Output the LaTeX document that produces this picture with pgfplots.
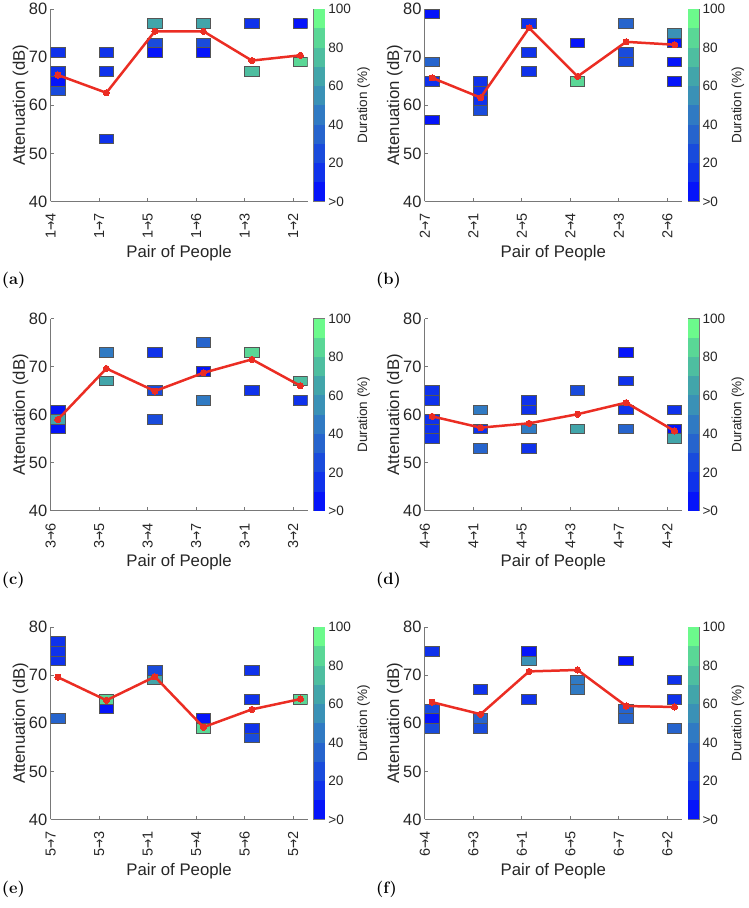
\documentclass[border=0pt]{standalone}
\usepackage{fontspec}
\setsansfont{Liberation Sans}
\newfontfamily\arrowfont{DejaVu Sans}
\usepackage{graphicx}
\usepackage{pgfplots}
\usepackage{pgfplotstable}
\pgfplotsset{compat=1.18}

% duration colour levels (10 bands, >0 ... 100)
\definecolor{c0}{RGB}{5,20,250}
\definecolor{c1}{RGB}{15,50,235}
\definecolor{c2}{RGB}{25,75,220}
\definecolor{c3}{RGB}{38,100,205}
\definecolor{c4}{RGB}{48,122,195}
\definecolor{c5}{RGB}{58,145,182}
\definecolor{c6}{RGB}{66,165,170}
\definecolor{c7}{RGB}{78,190,160}
\definecolor{c8}{RGB}{90,215,150}
\definecolor{c9}{RGB}{108,250,140}
\definecolor{redc}{RGB}{235,45,35}
\definecolor{edgec}{RGB}{85,85,85}
\definecolor{axc}{RGB}{120,120,120}
\definecolor{txtc}{RGB}{38,38,38}

\newcommand\ar{{\arrowfont\scalebox{0.75}[1]{→}}}

% boxes: 0.3 x-units wide, 2 dB high
\pgfdeclareplotmark{durbox}{%
  \pgfpathrectangle{\pgfpoint{-7.29pt}{-4.8175pt}}{\pgfpoint{14.58pt}{9.635pt}}%
  \pgfusepathqfillstroke}
\pgfdeclareplotmark{cbband}{%
  \pgfpathrectangle{\pgfpoint{-5.5pt}{-9.635pt}}{\pgfpoint{11pt}{19.27pt}}%
  \pgfusepathqfill}

\pgfplotsset{
  lvlclasses/.style={scatter, only marks, scatter src=explicit symbolic,
    scatter/classes={0={fill=c0},1={fill=c1},2={fill=c2},3={fill=c3},4={fill=c4},
                     5={fill=c5},6={fill=c6},7={fill=c7},8={fill=c8},9={fill=c9}}},
  panel/.style={
    scale only axis, width=257.6pt, height=192.7pt, anchor=south west,
    xmin=0, xmax=5.3, ymin=40, ymax=80,
    axis x line*=bottom, axis y line*=left,
    axis line style={draw=axc, line width=0.7pt},
    xtick={0,1,2,3,4,5}, ytick={40,50,60,70,80},
    tick align=inside, major tick length=3.5pt,
    tick style={draw=axc, line width=0.7pt},
    /pgf/number format/assume math mode=true,
    yticklabel style={font=\fontsize{16.5}{18}\selectfont\sffamily, text=txtc, inner xsep=3.2pt},
    xticklabel style={font=\fontsize{14.5}{16}\selectfont\sffamily, text=txtc, rotate=90, anchor=east, inner xsep=12pt, inner ysep=0pt},
    xlabel={Pair of People},
    xlabel style={font=\fontsize{16.8}{18}\selectfont\sffamily, text=txtc, at={(axis description cs:0.5,-0.2906)}, anchor=base},
    ylabel={Attenuation (dB)},
    ylabel style={font=\fontsize{16.8}{18}\selectfont\sffamily, text=txtc, at={(axis description cs:-0.0998,0.5)}, anchor=base},
    clip marker paths=true,
  },
  cbar/.style={
    scale only axis, width=11pt, height=192.7pt, anchor=south west,
    xmin=0, xmax=1, ymin=0, ymax=100, axis on top,
    xtick=\empty, ytick={0,20,40,60,80,100}, yticklabels={>0,20,40,60,80,100},
    ytick pos=right, yticklabel pos=right,
    tick align=inside, major tick length=2.5pt,
    axis line style={draw=axc, line width=0.7pt},
    tick style={draw=axc, line width=0.7pt},
    yticklabel style={font=\fontsize{13.6}{15}\selectfont\sffamily, text=txtc, inner xsep=3.5pt},
    ylabel={Duration (\%)},
    ylabel style={font=\fontsize{13.6}{15}\selectfont\sffamily, text=txtc, at={(axis description cs:4.88,0.5)}, anchor=base},
  },
  redline/.style={color=redc, line width=2.5pt, mark=*, mark size=3.1pt,
    mark options={solid, fill=redc, draw=redc, line width=0pt}},
}

% colorbar bands
\pgfplotstableread{
x y lvl
0.5 5 0
0.5 15 1
0.5 25 2
0.5 35 3
0.5 45 4
0.5 55 5
0.5 65 6
0.5 75 7
0.5 85 8
0.5 95 9
}\cbtab

% (a) boxes: category, lower edge of 2 dB bin, duration level
\pgfplotstableread{
cat lo lvl
0 70 1
0 66 1
0 64 0
0 62 2
1 70 1
1 66 1
1 52 1
2 76 6
2 72 2
2 70 0
3 76 6
3 72 2
3 70 0
4 76 1
4 66 7
5 76 0
5 68 8
}\boxA
\pgfplotstableread{
cat v
0 66.3
1 62.6
2 75.4
3 75.4
4 69.3
5 70.4
}\meanA

\pgfplotstableread{
cat lo lvl
0 78 0
0 68 3
0 64 1
0 56 0
1 64 1
1 62 1
1 60 1
1 58 2
2 80 1
2 76 1
2 70 1
2 66 1
3 72 0
3 64 8
4 76 3
4 70 2
4 68 2
5 74 5
5 72 0
5 68 0
5 64 0
}\boxB
\pgfplotstableread{
cat v
0 65.7
1 61.6
2 76.1
3 66.0
4 73.2
5 72.6
}\meanB

\pgfplotstableread{
cat lo lvl
0 60 0
0 58 6
0 56 0
1 72 4
1 66 6
2 72 1
2 64 2
2 58 2
3 74 3
3 68 0
3 62 4
4 72 8
4 64 1
5 66 7
5 62 1
}\boxC
\pgfplotstableread{
cat v
0 59.0
1 69.6
2 64.9
3 68.7
4 71.5
5 66.0
}\meanC

\pgfplotstableread{
cat lo lvl
0 64 1
0 62 1
0 58 1
0 56 1
0 54 1
1 60 4
1 56 1
1 52 3
2 62 1
2 60 1
2 56 4
2 52 1
3 64 2
3 56 6
4 72 0
4 66 1
4 60 1
4 56 3
5 60 1
5 56 0
5 54 6
}\boxD
\pgfplotstableread{
cat v
0 59.65
1 57.3
2 58.2
3 60.1
4 62.5
5 56.6
}\meanD

\pgfplotstableread{
cat lo lvl
0 76 1
0 74 1
0 72 1
0 60 3
1 64 8
1 62 0
2 70 2
2 68 6
3 60 0
3 58 8
4 70 1
4 64 1
4 58 1
4 56 2
5 64 8
}\boxE
\pgfplotstableread{
cat v
0 69.6
1 64.8
2 69.7
3 59.2
4 62.9
5 65.05
}\meanE

\pgfplotstableread{
cat lo lvl
0 74 1
0 62 2
0 60 0
0 58 2
1 66 1
1 60 3
1 58 2
2 74 0
2 72 5
2 64 1
3 80 4
3 68 4
3 66 4
4 72 0
4 62 3
4 60 3
5 68 1
5 64 1
5 58 3
}\boxF
\pgfplotstableread{
cat v
0 64.4
1 61.9
2 70.8
3 71.1
4 63.6
5 63.4
}\meanF

% #1 x of plot left, #2 y of plot bottom, #3 boxes, #4 line, #5 tick labels, #6 letter, #7 letter baseline
\newcommand\panel[7]{%
  \begin{axis}[panel, at={(#1pt,#2pt)}, xticklabels={#5}]
    \addplot[lvlclasses, mark=durbox, mark options={draw=edgec, line width=0.8pt}]
      table[x expr=\thisrow{cat}+0.15, y expr=\thisrow{lo}+1, meta=lvl]{#3};
    \addplot[redline] table[x expr=\thisrow{cat}+0.15, y=v]{#4};
  \end{axis}
  \begin{axis}[cbar, at={(#1pt+263.6pt,#2pt)}]
    \addplot[lvlclasses, mark=cbband, mark options={draw=none}]
      table[x=x, y=y, meta=lvl]{\cbtab};
  \end{axis}
  \node[anchor=base west, inner sep=0pt, font=\fontsize{16.5}{18}\selectfont\bfseries] at (#1pt-49pt,#7pt) {(#6)};
}

\begin{document}
\begin{tikzpicture}
\path (0pt,0pt) rectangle (750pt,908pt);
\panel{50.7}{708}{\boxA}{\meanA}{1\ar4,1\ar7,1\ar5,1\ar6,1\ar3,1\ar2}{a}{625}
\panel{425.7}{708}{\boxB}{\meanB}{2\ar7,2\ar1,2\ar5,2\ar4,2\ar3,2\ar6}{b}{625}
\panel{50.7}{398}{\boxC}{\meanC}{3\ar6,3\ar5,3\ar4,3\ar7,3\ar1,3\ar2}{c}{324.5}
\panel{425.7}{398}{\boxD}{\meanD}{4\ar6,4\ar1,4\ar5,4\ar3,4\ar7,4\ar2}{d}{324.5}
\panel{50.7}{88.7}{\boxE}{\meanE}{5\ar7,5\ar3,5\ar1,5\ar4,5\ar6,5\ar2}{e}{14.5}
\panel{425.7}{88.7}{\boxF}{\meanF}{6\ar4,6\ar3,6\ar1,6\ar5,6\ar7,6\ar2}{f}{14.5}
\end{tikzpicture}
\end{document}
